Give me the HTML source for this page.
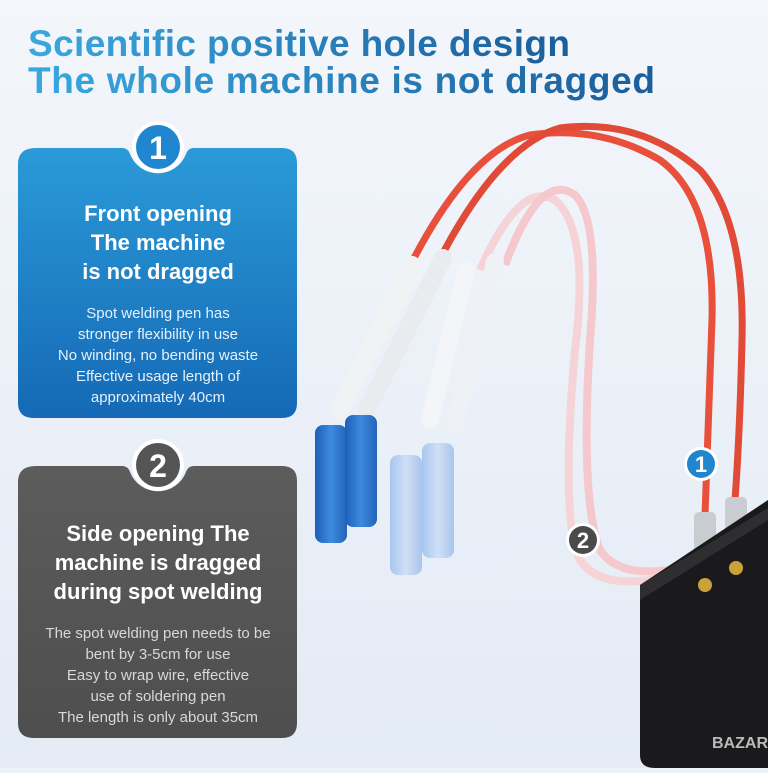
<!DOCTYPE html>
<html><head><meta charset="utf-8"><style>
html,body{margin:0;padding:0}
body{width:768px;height:768px;overflow:hidden;background:#edf2f9;font-family:"Liberation Sans",sans-serif}
</style></head><body>
<svg width="768" height="768" viewBox="0 0 768 768" xmlns="http://www.w3.org/2000/svg">
<defs>
<linearGradient id="tg" x1="0" x2="1"><stop offset="0" stop-color="#3aa8e0"/><stop offset="1" stop-color="#1a5d9a"/></linearGradient>
<linearGradient id="bb" x1="0" y1="0" x2="0" y2="1"><stop offset="0" stop-color="#2a9ad8"/><stop offset="1" stop-color="#1569b5"/></linearGradient>
<linearGradient id="gb" x1="0" y1="0" x2="0" y2="1"><stop offset="0" stop-color="#5c5c5c"/><stop offset="1" stop-color="#4e4e4e"/></linearGradient>
<linearGradient id="bat" x1="0" x2="1"><stop offset="0" stop-color="#1d5fb8"/><stop offset="0.5" stop-color="#3d8be0"/><stop offset="1" stop-color="#2363b8"/></linearGradient>
<linearGradient id="bat2" x1="0" x2="1"><stop offset="0" stop-color="#a8c6ee"/><stop offset="0.5" stop-color="#cfe0f7"/><stop offset="1" stop-color="#a9c5ec"/></linearGradient>
<linearGradient id="bg" x1="0" y1="0" x2="0" y2="1"><stop offset="0" stop-color="#f3f6fb"/><stop offset="1" stop-color="#e4ebf5"/></linearGradient>
</defs>
<rect width="768" height="768" fill="url(#bg)"/>
<text x="28" y="56" font-size="37" font-weight="bold" fill="url(#tg)" textLength="542">Scientific positive hole design</text>
<text x="28" y="93" font-size="37" font-weight="bold" fill="url(#tg)" textLength="627">The whole machine is not dragged</text>

<!-- box 1 -->
<path d="M36,148 H122 Q128,148 130,154 A30,30 0 0 0 186,154 Q188,148 194,148 H282 Q297,148 297,163 V403 Q297,418 282,418 H34 Q18,418 18,403 V164 Q18,148 36,148 Z" fill="url(#bb)"/>
<circle cx="158" cy="147" r="26" fill="#fff"/>
<circle cx="158" cy="147" r="22" fill="#1f86cf"/>
<text x="158" y="159" font-size="32" font-weight="bold" fill="#fff" text-anchor="middle">1</text>
<g fill="#fff" text-anchor="middle" font-weight="bold" font-size="22">
<text x="158" y="221">Front opening</text><text x="158" y="250">The machine</text><text x="158" y="279">is not dragged</text></g>
<g fill="#e6f1fb" text-anchor="middle" font-size="15">
<text x="158" y="318">Spot welding pen has</text><text x="158" y="339">stronger flexibility in use</text><text x="158" y="360">No winding, no bending waste</text><text x="158" y="381">Effective usage length of</text><text x="158" y="402">approximately 40cm</text></g>

<!-- box 2 -->
<path d="M36,466 H122 Q128,466 130,472 A30,30 0 0 0 186,472 Q188,466 194,466 H282 Q297,466 297,481 V723 Q297,738 282,738 H34 Q18,738 18,723 V482 Q18,466 36,466 Z" fill="url(#gb)"/>
<circle cx="158" cy="465" r="26" fill="#fff"/>
<circle cx="158" cy="465" r="22" fill="#555"/>
<text x="158" y="477" font-size="32" font-weight="bold" fill="#fff" text-anchor="middle">2</text>
<g fill="#fff" text-anchor="middle" font-weight="bold" font-size="22">
<text x="158" y="541">Side opening The</text><text x="158" y="570">machine is dragged</text><text x="158" y="599">during spot welding</text></g>
<g fill="#d8d8d8" text-anchor="middle" font-size="15">
<text x="158" y="638">The spot welding pen needs to be</text><text x="158" y="659">bent by 3-5cm for use</text><text x="158" y="680">Easy to wrap wire, effective</text><text x="158" y="701">use of soldering pen</text><text x="158" y="722">The length is only about 35cm</text></g>

<!-- pink cables -->
<path d="M480,270 Q520,180 555,200 Q590,230 575,350 Q560,520 580,560 Q600,590 660,578" fill="none" stroke="#f6d3d6" stroke-width="8"/>
<path d="M505,265 Q540,170 575,195 Q600,220 590,340 Q580,500 600,550 Q620,580 680,568" fill="none" stroke="#f4c8cc" stroke-width="8"/>
<path d="M466,270 L430,420" stroke="#f3f5f8" stroke-width="18" stroke-linecap="round"/>
<path d="M495,262 L455,425" stroke="#eef1f5" stroke-width="18" stroke-linecap="round"/>
<rect x="390" y="455" width="32" height="120" rx="8" fill="url(#bat2)"/>
<rect x="422" y="443" width="32" height="115" rx="8" fill="url(#bat2)"/>

<!-- red cables -->
<path d="M412,262 Q470,150 530,135 Q600,125 660,160 Q715,200 712,320 Q708,420 705,515" fill="none" stroke="#e8503c" stroke-width="7"/>
<path d="M442,255 Q500,145 560,128 Q640,118 700,170 Q745,220 742,340 Q740,430 735,500" fill="none" stroke="#e14a36" stroke-width="7"/>
<path d="M412,265 L340,410" stroke="#f1f2f4" stroke-width="18" stroke-linecap="round"/>
<path d="M443,258 L367,410" stroke="#e9ebee" stroke-width="18" stroke-linecap="round"/>
<rect x="315" y="425" width="32" height="118" rx="8" fill="url(#bat)"/>
<rect x="345" y="415" width="32" height="112" rx="8" fill="url(#bat)"/>
<rect x="694" y="512" width="22" height="60" rx="5" fill="#c9ccd0"/>
<rect x="725" y="497" width="22" height="60" rx="5" fill="#c9ccd0"/>
<!-- machine -->
<path d="M640,585 L768,500 V768 H655 Q640,768 640,755 Z" fill="#1a1a1c"/>
<path d="M640,585 L768,508 V520 L640,600 Z" fill="#2e2e30"/>
<circle cx="705" cy="585" r="7" fill="#c9a23a"/><circle cx="736" cy="568" r="7" fill="#c9a23a"/>
<circle cx="701" cy="464" r="17" fill="#fff"/><circle cx="701" cy="464" r="14" fill="#1f86cf"/>
<text x="701" y="472" font-size="22" font-weight="bold" fill="#fff" text-anchor="middle">1</text>
<circle cx="583" cy="540" r="17" fill="#fff"/><circle cx="583" cy="540" r="14" fill="#4a4a4a"/>
<text x="583" y="548" font-size="22" font-weight="bold" fill="#fff" text-anchor="middle">2</text>
<text x="712" y="748" font-size="16" font-weight="bold" fill="#ffffff" fill-opacity="0.7">BAZAR</text>
</svg>
</body></html>
